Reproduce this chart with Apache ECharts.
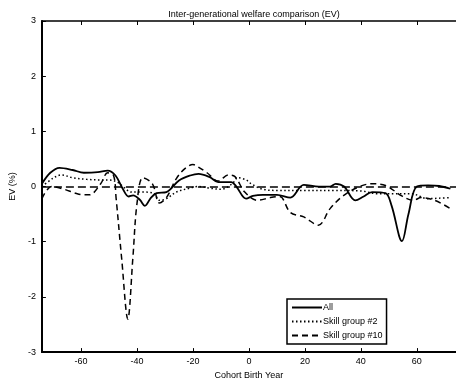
<!DOCTYPE html>
<html>
<head>
<meta charset="utf-8">
<script src="https://cdn.jsdelivr.net/npm/echarts@6/dist/echarts.min.js"></script>
<style>
  html, body { margin: 0; padding: 0; background: #fff; }
  #chart { width: 456px; height: 385px; }
</style>
</head>
<body>
<div id="chart"></div>
<script>
// values
const xAll = [-74, -71, -67.7, -63, -59, -54, -50.5, -47.7, -45, -43, -41.4, -39, -37.2, -35, -33, -29.5, -25, -21, -18, -14, -11, -6.3, -4.5, -1, 1.4, 5, 10, 14.8, 19.6, 25, 28.9, 31, 34, 38, 41, 44, 48.8, 51, 54.7, 57, 60, 64, 68, 72];
const yAll = [0.05, 0.25, 0.34, 0.3, 0.25, 0.26, 0.29, 0.2, -0.05, -0.18, -0.16, -0.24, -0.35, -0.2, -0.12, -0.1, 0.11, 0.2, 0.23, 0.17, 0.08, 0.08, 0, -0.22, -0.17, -0.15, -0.15, -0.2, 0.03, 0, 0, 0.05, 0, -0.25, -0.18, -0.1, -0.12, -0.35, -0.99, -0.5, 0, 0.02, 0.01, -0.04];

const xSkill2 = [-74, -70, -67, -63, -58, -53, -50, -47, -45, -42, -38, -34, -32, -29.5, -26, -22, -18, -14, -10, -6, -3.9, -1, 0.8, 5, 10, 20, 30, 40, 46, 52, 58, 64, 68, 72];
const ySkill2 = [0, 0.15, 0.21, 0.16, 0.13, 0.12, 0.12, 0.08, 0, -0.1, -0.1, -0.12, -0.25, -0.22, -0.1, -0.04, 0, -0.03, -0.05, 0.05, 0.16, 0.12, 0.05, -0.05, -0.07, -0.07, -0.07, -0.08, -0.13, -0.13, -0.13, -0.22, -0.21, -0.2];

const xSkill10 = [-74, -70.5, -66, -62, -59, -57, -53, -50.5, -48.4, -47.5, -45.5, -43.3, -41.5, -40, -37.9, -34.5, -32, -29.5, -26, -23, -20, -18.6, -15, -11, -7.4, -5, -1.5, 3, 7.7, 11, 14.8, 19.6, 24.8, 29, 33.6, 39.5, 44, 48.8, 54.6, 58.7, 61.6, 66.4, 72];
const ySkill10 = [-0.22, 0, -0.05, -0.12, -0.15, -0.15, 0.05, 0.25, 0.2, -0.2, -1.3, -2.4, -1.3, -0.3, 0.16, 0.05, -0.3, -0.2, 0.14, 0.32, 0.4, 0.37, 0.25, 0.1, 0.21, 0.18, -0.1, -0.25, -0.2, -0.18, -0.47, -0.55, -0.7, -0.4, -0.17, 0, 0.05, 0.02, -0.17, -0.25, -0.2, -0.25, -0.4];

const xTicks = [-60, -40, -20, 0, 20, 40, 60];
const seriesNames = ['All', 'Skill group #2', 'Skill group #10'];

const pairs = (xs, ys) => xs.map((x, i) => [x, ys[i]]);

const font = 'Liberation Sans';
const axisBase = {
  min: -74, max: 74,
  axisLine: { show: true, onZero: false, lineStyle: { color: '#000', width: 2 } },
  splitLine: { show: false }
};

let option = {
  animation: false,
  title: {
    text: 'Inter-generational welfare comparison (EV)',
    left: 249, top: 5, textAlign: 'center',
    textStyle: { fontFamily: font, fontSize: 9, fontWeight: 'normal', color: '#000' }
  },
  legend: {
    data: seriesNames,
    orient: 'vertical',
    left: 287, top: 299,
    itemWidth: 30, itemHeight: 8, itemGap: 5,
    padding: [4, 4, 4, 4],
    borderColor: '#000', borderWidth: 1.5, backgroundColor: '#fff',
    itemStyle: { opacity: 0 },
    textStyle: { fontFamily: font, fontSize: 9, color: '#000', padding: [0, 0, 0, -4] }
  },
  grid: { left: 40, top: 21, width: 422, height: 334 },
  xAxis: [
    Object.assign({}, axisBase, {
      type: 'value', position: 'bottom',
      name: 'Cohort Birth Year', nameLocation: 'middle', nameGap: 17,
      nameTextStyle: { fontFamily: font, fontSize: 9, color: '#000' },
      axisTick: { inside: true, length: 4, lineStyle: { color: '#000' }, customValues: xTicks },
      axisLabel: { fontFamily: font, fontSize: 9, color: '#000', margin: 5, customValues: xTicks }
    }),
    Object.assign({}, axisBase, {
      type: 'value', position: 'top',
      axisLine: { show: true, onZero: false, lineStyle: { color: '#000', width: 1.5 } },
      axisTick: { inside: true, length: 4, lineStyle: { color: '#000' }, customValues: xTicks },
      axisLabel: { show: false }
    })
  ],
  yAxis: {
    type: 'value', min: -3, max: 3, interval: 1,
    name: 'EV (%)', nameLocation: 'middle', nameGap: 24,
    nameTextStyle: { fontFamily: font, fontSize: 9, color: '#000' },
    axisLine: { show: true, onZero: false, lineStyle: { color: '#000', width: 2 } },
    axisTick: { inside: true, length: 4, lineStyle: { color: '#000' } },
    axisLabel: { fontFamily: font, fontSize: 9, color: '#000', margin: 6 },
    splitLine: { show: false }
  },
  series: [
    {
      name: seriesNames[0], type: 'line', data: pairs(xAll, yAll),
      smooth: 0.35, showSymbol: false, symbol: 'none', z: 3,
      lineStyle: { color: '#000', width: 1.8, type: 'solid' },
      itemStyle: { color: '#000' },
      markLine: {
        silent: true, symbol: 'none', label: { show: false },
        lineStyle: { color: '#000', width: 1.5, type: [8, 4] },
        data: [{ yAxis: 0 }]
      }
    },
    {
      name: seriesNames[1], type: 'line', data: pairs(xSkill2, ySkill2),
      smooth: 0.35, showSymbol: false, symbol: 'none',
      lineStyle: { color: '#000', width: 1.5, type: [1.5, 2.5] },
      itemStyle: { color: '#000' }
    },
    {
      name: seriesNames[2], type: 'line', data: pairs(xSkill10, ySkill10),
      smooth: 0.35, showSymbol: false, symbol: 'none',
      lineStyle: { color: '#000', width: 1.5, type: [6, 4] },
      itemStyle: { color: '#000' }
    }
  ]
};

let myChart = echarts.init(document.getElementById('chart'));
myChart.setOption(option);
</script>
</body>
</html>
